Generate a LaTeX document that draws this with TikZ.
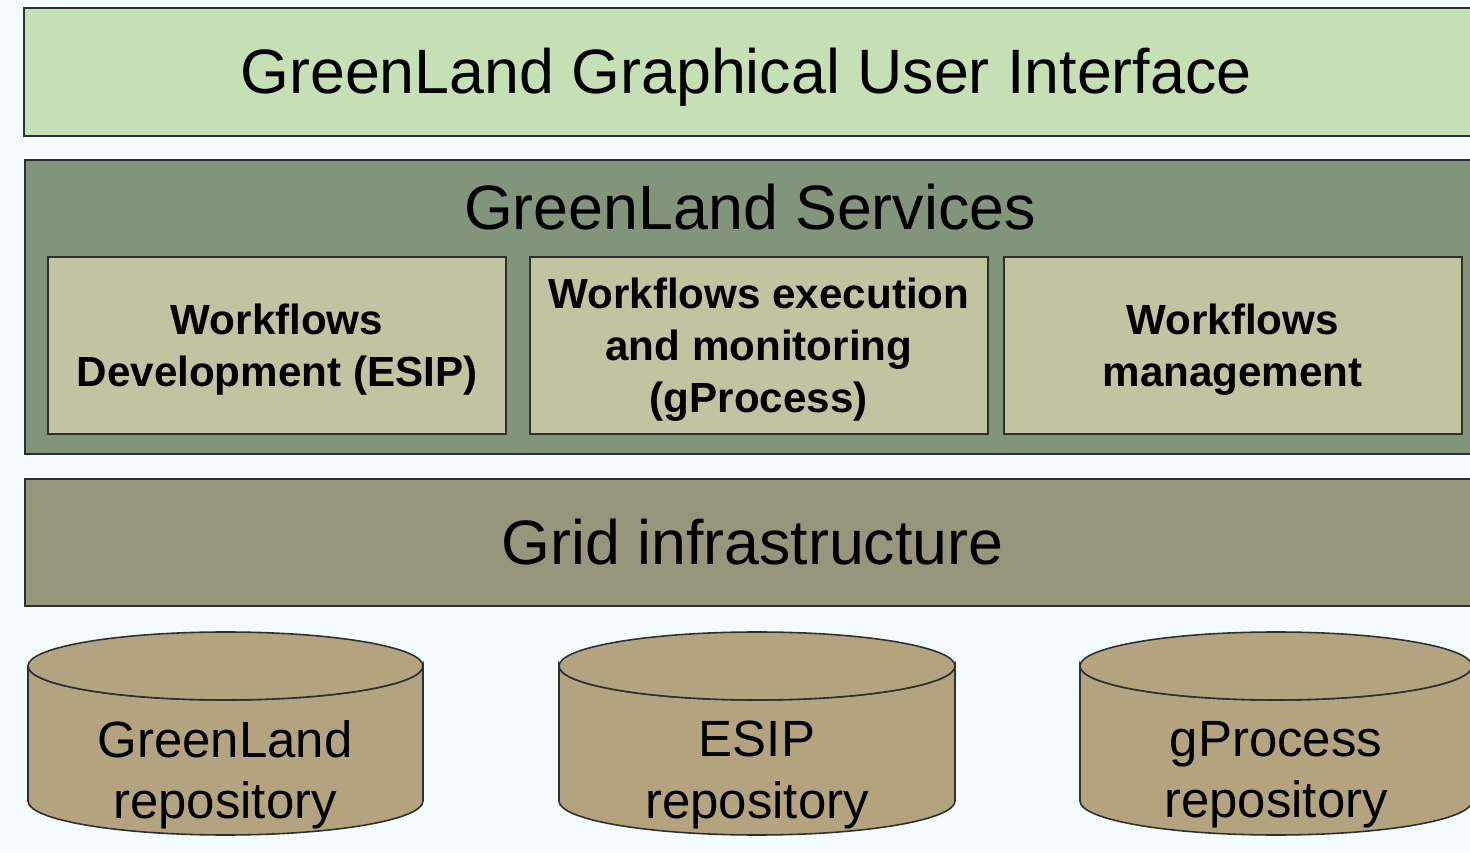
\documentclass[tikz,border=0pt]{standalone}
\usepackage{fontspec}
\setmainfont{Liberation Sans}
\usepackage{tikz}
\usetikzlibrary{positioning}
\definecolor{bgblue}{RGB}{245,252,255}
\definecolor{edgegray}{RGB}{45,48,45}
\definecolor{guifill}{RGB}{196,224,180}
\definecolor{servfill}{RGB}{130,148,122}
\definecolor{modfill}{RGB}{194,195,160}
\definecolor{gridfill}{RGB}{151,150,124}
\definecolor{repofill}{RGB}{179,163,127}
\tikzset{
    %Define style for the wide layers
    layer/.style={
           rectangle,
           draw=edgegray, line width=1.1pt,
           inner sep=0pt,
           minimum width=29.1cm},
    bigtext/.style={
           font=\fontsize{35.7}{42}\selectfont},
    %Define style for the service modules
    module/.style={
           rectangle,
           draw=edgegray, line width=1.1pt,
           fill=modfill,
           minimum width=9.16cm,
           minimum height=3.54cm},
    moduletext/.style={
           align=center,
           font=\bfseries\fontsize{24}{29.6}\selectfont},
    % Define style for the repositories
    repo/.style={
           draw=edgegray, line width=0.9pt,
           fill=repofill},
    repotext/.style={
           align=center,
           font=\fontsize{29}{35}\selectfont}
}

\begin{document}
\begin{tikzpicture}[x=0.02cm,y=0.02cm]
\clip (0,0) rectangle (1470,852);
\fill[bgblue] (0,0) rectangle (1470,852);

 %layers
\node[layer, fill=guifill, minimum height=2.56cm](gui) at (751.5,780){};
\node[bigtext](guititle) at (746,775){GreenLand Graphical User Interface};
\node[layer, fill=servfill, minimum height=5.88cm](services) at (752.5,545){};
\node[bigtext](servtitle) at (750,645){GreenLand Services};
\node[layer, fill=gridfill, minimum height=2.54cm, bigtext](grid) at (752.5,309.5){Grid infrastructure};

 %modules
\node[module](dev) at (277,506.5){};
\node[module, right=0.44cm of dev](exec){};
\node[module, right=0.28cm of exec](mgmt){};
\node[moduletext](devtext) at ([shift={(0,-4)}]dev.center){Workflows\\Development (ESIP)};
\node[moduletext](exectext) at ([shift={(0,-4)}]exec.center){Workflows execution\\and monitoring\\(gProcess)};
\node[moduletext](mgmttext) at ([shift={(0,-4)}]mgmt.center){Workflows\\management};

 %repositories
\draw[repo] (28,186) -- (28,51) arc[start angle=180, end angle=360, x radius=197.5, y radius=34] -- (423,186) arc[start angle=0, end angle=-180, x radius=197.5, y radius=34] -- cycle;
\draw[repo] (225.5,186) ellipse[x radius=197.5, y radius=34];
\draw[repo] (559,186) -- (559,51) arc[start angle=180, end angle=360, x radius=198, y radius=34] -- (955,186) arc[start angle=0, end angle=-180, x radius=198, y radius=34] -- cycle;
\draw[repo] (757,186) ellipse[x radius=198, y radius=34];
\draw[repo] (1080,186) -- (1080,51) arc[start angle=180, end angle=360, x radius=196, y radius=34] -- (1472,186) arc[start angle=0, end angle=-180, x radius=196, y radius=34] -- cycle;
\draw[repo] (1276,186) ellipse[x radius=196, y radius=34];

\node[repotext](greenrepo) at (225,77){GreenLand\\repository};
\node[repotext](esiprepo) at (757,77){ESIP\\repository};
\node[repotext](gprocrepo) at (1276,77){gProcess\\repository};

\end{tikzpicture}
\end{document}
